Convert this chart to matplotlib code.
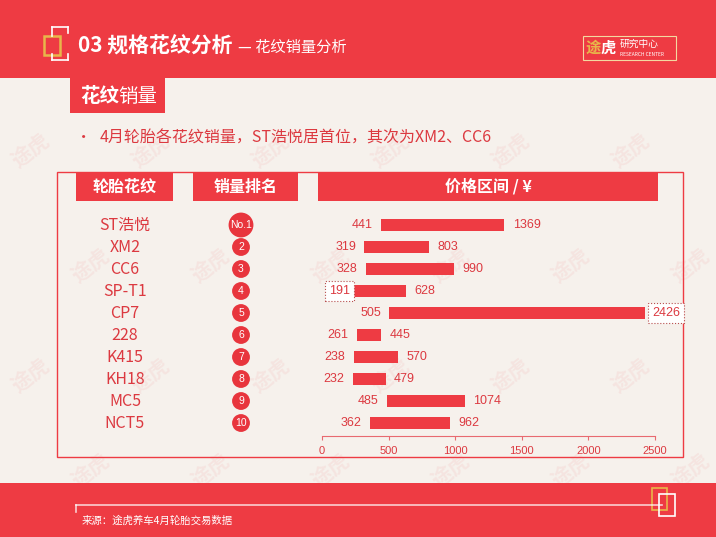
import matplotlib
matplotlib.use('Agg')
import matplotlib.pyplot as plt
from matplotlib.patches import Rectangle
from matplotlib.lines import Line2D

plt.rcParams['font.family'] = ['Noto Sans CJK SC', 'DejaVu Sans']

# data
patterns = ['ST浩悦', 'XM2', 'CC6', 'SP-T1', 'CP7', '228', 'K415', 'KH18', 'MC5', 'NCT5']
ranks = ['No.1', '2', '3', '4', '5', '6', '7', '8', '9', '10']
price_min = [441, 319, 328, 191, 505, 261, 238, 232, 485, 362]
price_max = [1369, 803, 990, 628, 2426, 445, 570, 479, 1074, 962]
xticks = [0, 500, 1000, 1500, 2000, 2500]

RED = '#EE3B43'
TXT = '#DC3940'
BG = '#F6F1EC'
GOLD = '#E8B64A'

W, H = 716, 537
fig = plt.figure(figsize=(W / 100, H / 100), dpi=100, facecolor=BG)

# background / decoration layer in pixel coords
bg = fig.add_axes([0, 0, 1, 1])
bg.set_xlim(0, W)
bg.set_ylim(H, 0)
bg.axis('off')
bg.set_facecolor(BG)

# faint watermark tiles
for wy, shift in [(150, 0), (265, 60), (375, 0), (470, 60)]:
    for wx in range(30 + shift, W, 120):
        bg.text(wx, wy, '途虎', color=RED, alpha=0.07, fontsize=15, fontweight='bold',
                rotation=38, ha='center', va='center')

bg.add_patch(Rectangle((0, 0), W, 78, fc=RED, ec='none'))
bg.add_patch(Rectangle((0, 483), W, 54, fc=RED, ec='none'))

# title bracket ornament
for seg in [((52, 68), (27, 27)), ((68, 68), (27, 33)), ((52, 52), (27, 36)),
            ((52, 68), (60, 60)), ((68, 68), (54, 60)), ((52, 52), (54, 60))]:
    bg.add_line(Line2D(seg[0], seg[1], color='white', lw=1.2))
bg.add_patch(Rectangle((44, 36), 16, 19, fc='none', ec=GOLD, lw=1.8))

bg.text(78, 45, '03 规格花纹分析', color='white', fontsize=15, fontweight='bold',
        va='center', ha='left')
bg.text(238, 47, '— 花纹销量分析', color='white', fontsize=11, va='center', ha='left')

# logo
bg.add_patch(Rectangle((583, 36), 93, 24, fc='none', ec='#F3D9A0', lw=0.8))
bg.text(586, 48, '途', color=GOLD, fontsize=11, fontweight='bold', va='center')
bg.text(601, 48, '虎', color='white', fontsize=11, fontweight='bold', va='center')
bg.text(620, 44, '研究中心', color='white', fontsize=7, va='center')
bg.text(620, 54, 'RESEARCH CENTER', color='white', fontsize=3.5, va='center')

# section tab
bg.add_patch(Rectangle((70, 78), 95, 35, fc=RED, ec='none'))
bg.text(80, 96, '花纹', color='white', fontsize=14, fontweight='bold', va='center')
bg.text(118, 96, '销量', color='white', fontsize=14, va='center')

bg.text(76, 138, '•', color=TXT, fontsize=11, va='center')
bg.text(100, 138, '4月轮胎各花纹销量，ST浩悦居首位，其次为XM2、CC6', color=TXT,
        fontsize=11.5, va='center')

# table frame and headers
bg.add_patch(Rectangle((57, 172), 626, 285, fc='none', ec=RED, lw=1))
headers = [('轮胎花纹', 76, 173), ('销量排名', 193, 298), ('价格区间 / ¥', 318, 658)]
for label, x0, x1 in headers:
    bg.add_patch(Rectangle((x0, 172), x1 - x0, 29, fc=RED, ec='none'))
    bg.text((x0 + x1) / 2, 186.5, label, color='white', fontsize=11.5, fontweight='bold',
            ha='center', va='center')

# bottom band
bg.add_line(Line2D([76, 662], [505, 505], color='white', alpha=0.75, lw=1.2))
bg.add_line(Line2D([76, 76], [505, 512], color='white', alpha=0.75, lw=1.2))
bg.add_patch(Rectangle((652, 488), 15, 22, fc='none', ec=GOLD, lw=1.2))
bg.add_patch(Rectangle((659, 494), 16, 22, fc='none', ec='white', lw=1.2))
bg.text(82, 521, '来源：途虎养车4月轮胎交易数据', color='white', fontsize=7.5, va='center')

# bar chart
x0px, x1px = 322, 655
top_px, bot_px = 214, 436
ax = fig.add_axes([x0px / W, 1 - bot_px / H, (x1px - x0px) / W, (bot_px - top_px) / H])
ax.patch.set_alpha(0)
n = len(patterns)
ypos = list(range(n))
widths = [b - a for a, b in zip(price_min, price_max)]
ax.barh(ypos, widths, left=price_min, height=0.57, color=RED, zorder=3)
ax.set_xlim(0, 2500)
ax.set_ylim(n - 0.41, -0.5)
ax.set_xticks(xticks)
ax.set_xticklabels([str(t) for t in xticks], fontsize=8, color=TXT, family='Liberation Sans')
ax.set_yticks([])
for s in ['top', 'right', 'left']:
    ax.spines[s].set_visible(False)
ax.spines['bottom'].set_color('#E86A70')
ax.tick_params(axis='x', colors='#E86A70', labelcolor=TXT, length=3, width=0.8, pad=4)

lab = dict(va='center', fontsize=9, color=TXT, family='Liberation Sans')
box = dict(boxstyle='square,pad=0.3', fc='white', ec='#B85050', ls=':', lw=0.8)
boxed = {3: 'min', 4: 'max'}
for i in ypos:
    lo, hi = price_min[i], price_max[i]
    if boxed.get(i) == 'min':
        ax.annotate(str(lo), (lo, i), xytext=(2, 0), textcoords='offset points',
                    ha='right', bbox=box, zorder=5, **lab)
    else:
        ax.annotate(str(lo), (lo, i), xytext=(-6, 0), textcoords='offset points',
                    ha='right', **lab)
    if boxed.get(i) == 'max':
        ax.annotate(str(hi), (hi, i), xytext=(5, 0), textcoords='offset points',
                    ha='left', bbox=box, annotation_clip=False, zorder=5, **lab)
    else:
        ax.annotate(str(hi), (hi, i), xytext=(6, 0), textcoords='offset points',
                    ha='left', **lab)

# pattern names and rank badges share the row scale of the bar axes
tr = ax.get_yaxis_transform()
name_x = (125 - x0px) / (x1px - x0px)
rank_x = (241 - x0px) / (x1px - x0px)
for i in ypos:
    ax.text(name_x, i, patterns[i], transform=tr, ha='center', va='center',
            fontsize=11.5, color=TXT, clip_on=False)
    size = 320 if i == 0 else 165
    ax.scatter([rank_x], [i], s=size, color='#E8353D', transform=tr, clip_on=False,
               edgecolors='none', zorder=4)
    ax.text(rank_x, i, ranks[i], transform=tr, ha='center', va='center',
            fontsize=7.5, color='white', clip_on=False, zorder=5,
            family='Liberation Sans')

fig.savefig('out.png', dpi=100, facecolor=BG)
